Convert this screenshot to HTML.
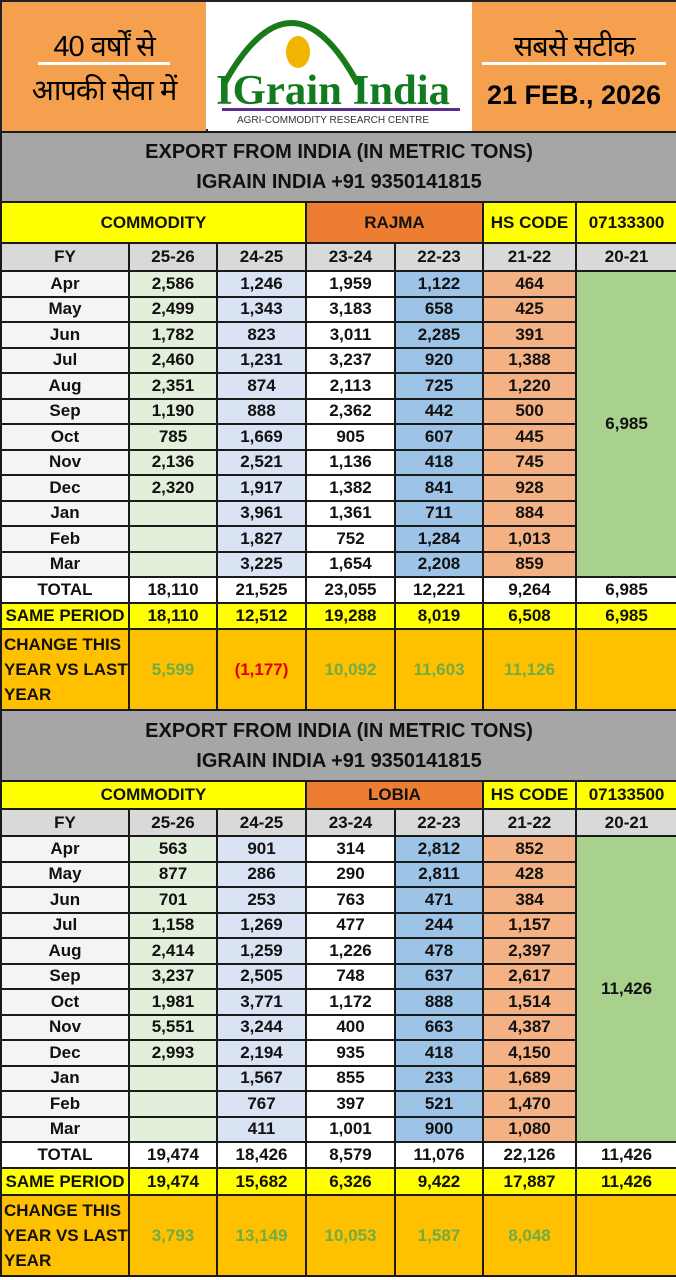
<!DOCTYPE html>
<html><head><meta charset="utf-8"><style>
body{margin:0;width:676px;height:1280px;overflow:hidden;background:#fff;font-family:"Liberation Sans","Noto Sans CJK SC",sans-serif;}
.hdr{position:relative;height:131px;border:2px solid #222;box-sizing:border-box;}
.hl{position:absolute;left:0;top:0;width:204px;height:129px;background:#f5a04f;}
.hm{position:absolute;left:206px;top:0;width:264px;height:129px;background:#fff;}
.hr{position:absolute;left:470px;top:0;width:204px;height:129px;background:#f5a04f;}
table{border-collapse:collapse;table-layout:fixed;width:676px;}
td{border:2px solid #1a1a1a;text-align:center;font-weight:bold;font-size:17px;padding:0;color:#111;white-space:nowrap;overflow:hidden;}
.t td{background:#a6a6a6;font-size:20px;line-height:30px;}
.y{background:#ffff00;}
.o{background:#ed7d31;}
.g{background:#d9d9d9;}
.m{background:#f4f4f4;}
.c1{background:#e2efda;}
.c2{background:#dae3f3;}
.c3{background:#fff;}
.c4{background:#9dc3e6;}
.c5{background:#f4b183;}
.c6{background:#a9d18e;}
.ch td{background:#ffc000;color:#70ad47;}
.ch td.l{color:#111;text-align:left;line-height:25px;font-size:17px;padding-left:2px;}
.w td{background:#fff;}
.sp td{background:#ffff00;}
.hi{position:absolute;width:204px;text-align:center;font-size:29px;letter-spacing:-1px;}
</style></head><body>
<div class="hdr">
 <div class="hl">
  <div class="hi" style="top:24px;">40 वर्षों से</div>
  <div style="position:absolute;left:36px;top:60px;width:132px;height:3px;background:#fff"></div>
  <div class="hi" style="top:68px;">आपकी सेवा में</div>
 </div>
 <div class="hm">
  <svg width="264" height="129" style="position:absolute;left:0;top:0">
   <path d="M16 82 Q84 -40 150 82" fill="none" stroke="#1a7a1a" stroke-width="6"/>
   <ellipse cx="90" cy="50" rx="12" ry="16" fill="#f3b400"/>
   <text x="125" y="102" text-anchor="middle" font-family="Liberation Serif" font-weight="bold" font-size="42" fill="#127a1f" textLength="234" lengthAdjust="spacingAndGlyphs">IGrain India</text>
   <rect x="14" y="106" width="238" height="3" fill="#5b2d8c"/>
   <text x="125" y="121" text-anchor="middle" font-family="Liberation Sans" font-size="10" fill="#333">AGRI-COMMODITY RESEARCH CENTRE</text>
  </svg>
 </div>
 <div class="hr">
  <div class="hi" style="top:24px;">सबसे सटीक</div>
  <div style="position:absolute;left:10px;top:60px;width:184px;height:3px;background:#fff"></div>
  <div style="position:absolute;top:78px;width:204px;text-align:center;font-size:27px;font-weight:bold;">21 FEB., 2026</div>
 </div>
</div>
<table>
<colgroup><col style="width:128px"><col style="width:88px"><col style="width:89px"><col style="width:89px"><col style="width:88px"><col style="width:93px"><col style="width:101px"></colgroup>
<tr class="t" style="height:70px"><td colspan="7">EXPORT FROM INDIA (IN METRIC TONS)<br>IGRAIN INDIA +91 9350141815</td></tr>
<tr style="height:41px"><td colspan="3" class="y">COMMODITY</td><td colspan="2" class="o">RAJMA</td><td class="y">HS CODE</td><td class="y">07133300</td></tr>
<tr style="height:28px" class="g"><td class="g">FY</td><td class="g">25-26</td><td class="g">24-25</td><td class="g">23-24</td><td class="g">22-23</td><td class="g">21-22</td><td class="g">20-21</td></tr>
<tr style="height:25.5px"><td class="m">Apr</td><td class="c1">2,586</td><td class="c2">1,246</td><td class="c3">1,959</td><td class="c4">1,122</td><td class="c5">464</td><td class="c6" rowspan="12">6,985</td></tr>
<tr style="height:25.5px"><td class="m">May</td><td class="c1">2,499</td><td class="c2">1,343</td><td class="c3">3,183</td><td class="c4">658</td><td class="c5">425</td></tr>
<tr style="height:25.5px"><td class="m">Jun</td><td class="c1">1,782</td><td class="c2">823</td><td class="c3">3,011</td><td class="c4">2,285</td><td class="c5">391</td></tr>
<tr style="height:25.5px"><td class="m">Jul</td><td class="c1">2,460</td><td class="c2">1,231</td><td class="c3">3,237</td><td class="c4">920</td><td class="c5">1,388</td></tr>
<tr style="height:25.5px"><td class="m">Aug</td><td class="c1">2,351</td><td class="c2">874</td><td class="c3">2,113</td><td class="c4">725</td><td class="c5">1,220</td></tr>
<tr style="height:25.5px"><td class="m">Sep</td><td class="c1">1,190</td><td class="c2">888</td><td class="c3">2,362</td><td class="c4">442</td><td class="c5">500</td></tr>
<tr style="height:25.5px"><td class="m">Oct</td><td class="c1">785</td><td class="c2">1,669</td><td class="c3">905</td><td class="c4">607</td><td class="c5">445</td></tr>
<tr style="height:25.5px"><td class="m">Nov</td><td class="c1">2,136</td><td class="c2">2,521</td><td class="c3">1,136</td><td class="c4">418</td><td class="c5">745</td></tr>
<tr style="height:25.5px"><td class="m">Dec</td><td class="c1">2,320</td><td class="c2">1,917</td><td class="c3">1,382</td><td class="c4">841</td><td class="c5">928</td></tr>
<tr style="height:25.5px"><td class="m">Jan</td><td class="c1"></td><td class="c2">3,961</td><td class="c3">1,361</td><td class="c4">711</td><td class="c5">884</td></tr>
<tr style="height:25.5px"><td class="m">Feb</td><td class="c1"></td><td class="c2">1,827</td><td class="c3">752</td><td class="c4">1,284</td><td class="c5">1,013</td></tr>
<tr style="height:25.5px"><td class="m">Mar</td><td class="c1"></td><td class="c2">3,225</td><td class="c3">1,654</td><td class="c4">2,208</td><td class="c5">859</td></tr>
<tr style="height:26px" class="w"><td>TOTAL</td><td>18,110</td><td>21,525</td><td>23,055</td><td>12,221</td><td>9,264</td><td>6,985</td></tr>
<tr style="height:26px" class="sp"><td>SAME PERIOD</td><td>18,110</td><td>12,512</td><td>19,288</td><td>8,019</td><td>6,508</td><td>6,985</td></tr>
<tr style="height:81px" class="ch"><td class="l">CHANGE THIS<br>YEAR VS LAST<br>YEAR</td><td>5,599</td><td style="color:#e00000">(1,177)</td><td>10,092</td><td>11,603</td><td>11,126</td><td></td></tr>
<tr class="t" style="height:71px"><td colspan="7">EXPORT FROM INDIA (IN METRIC TONS)<br>IGRAIN INDIA +91 9350141815</td></tr>
<tr style="height:28px"><td colspan="3" class="y">COMMODITY</td><td colspan="2" class="o">LOBIA</td><td class="y">HS CODE</td><td class="y">07133500</td></tr>
<tr style="height:27px"><td class="g">FY</td><td class="g">25-26</td><td class="g">24-25</td><td class="g">23-24</td><td class="g">22-23</td><td class="g">21-22</td><td class="g">20-21</td></tr>
<tr style="height:25.5px"><td class="m">Apr</td><td class="c1">563</td><td class="c2">901</td><td class="c3">314</td><td class="c4">2,812</td><td class="c5">852</td><td class="c6" rowspan="12">11,426</td></tr>
<tr style="height:25.5px"><td class="m">May</td><td class="c1">877</td><td class="c2">286</td><td class="c3">290</td><td class="c4">2,811</td><td class="c5">428</td></tr>
<tr style="height:25.5px"><td class="m">Jun</td><td class="c1">701</td><td class="c2">253</td><td class="c3">763</td><td class="c4">471</td><td class="c5">384</td></tr>
<tr style="height:25.5px"><td class="m">Jul</td><td class="c1">1,158</td><td class="c2">1,269</td><td class="c3">477</td><td class="c4">244</td><td class="c5">1,157</td></tr>
<tr style="height:25.5px"><td class="m">Aug</td><td class="c1">2,414</td><td class="c2">1,259</td><td class="c3">1,226</td><td class="c4">478</td><td class="c5">2,397</td></tr>
<tr style="height:25.5px"><td class="m">Sep</td><td class="c1">3,237</td><td class="c2">2,505</td><td class="c3">748</td><td class="c4">637</td><td class="c5">2,617</td></tr>
<tr style="height:25.5px"><td class="m">Oct</td><td class="c1">1,981</td><td class="c2">3,771</td><td class="c3">1,172</td><td class="c4">888</td><td class="c5">1,514</td></tr>
<tr style="height:25.5px"><td class="m">Nov</td><td class="c1">5,551</td><td class="c2">3,244</td><td class="c3">400</td><td class="c4">663</td><td class="c5">4,387</td></tr>
<tr style="height:25.5px"><td class="m">Dec</td><td class="c1">2,993</td><td class="c2">2,194</td><td class="c3">935</td><td class="c4">418</td><td class="c5">4,150</td></tr>
<tr style="height:25.5px"><td class="m">Jan</td><td class="c1"></td><td class="c2">1,567</td><td class="c3">855</td><td class="c4">233</td><td class="c5">1,689</td></tr>
<tr style="height:25.5px"><td class="m">Feb</td><td class="c1"></td><td class="c2">767</td><td class="c3">397</td><td class="c4">521</td><td class="c5">1,470</td></tr>
<tr style="height:25.5px"><td class="m">Mar</td><td class="c1"></td><td class="c2">411</td><td class="c3">1,001</td><td class="c4">900</td><td class="c5">1,080</td></tr>
<tr style="height:26px" class="w"><td>TOTAL</td><td>19,474</td><td>18,426</td><td>8,579</td><td>11,076</td><td>22,126</td><td>11,426</td></tr>
<tr style="height:27px" class="sp"><td>SAME PERIOD</td><td>19,474</td><td>15,682</td><td>6,326</td><td>9,422</td><td>17,887</td><td>11,426</td></tr>
<tr style="height:81px" class="ch"><td class="l">CHANGE THIS<br>YEAR VS LAST<br>YEAR</td><td>3,793</td><td>13,149</td><td>10,053</td><td>1,587</td><td>8,048</td><td></td></tr>
</table>
</body></html>
